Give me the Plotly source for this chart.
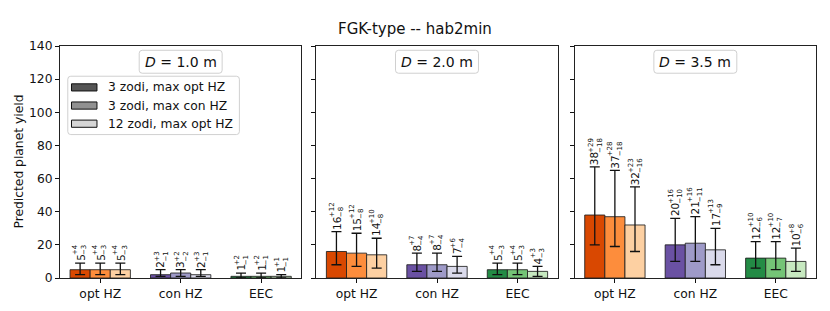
import plotly.graph_objects as go

categories = ["opt HZ", "con HZ", "EEC"]
scenarios = ["3 zodi, max opt HZ", "3 zodi, max con HZ", "12 zodi, max opt HZ"]
diameters = ["1.0", "2.0", "3.5"]

# [scenario][category]
yield_D10 = [[5, 2, 1], [5, 3, 1], [5, 2, 1]]
plus_D10 = [[4, 3, 2], [4, 2, 2], [4, 3, 1]]
minus_D10 = [[3, 1, 1], [3, 2, 1], [3, 1, 1]]

yield_D20 = [[16, 8, 5], [15, 8, 5], [14, 7, 4]]
plus_D20 = [[12, 7, 4], [12, 7, 4], [10, 6, 3]]
minus_D20 = [[8, 4, 3], [8, 4, 3], [8, 4, 3]]

yield_D35 = [[38, 20, 12], [37, 21, 12], [32, 17, 10]]
plus_D35 = [[29, 16, 10], [28, 16, 10], [23, 13, 8]]
minus_D35 = [[18, 10, 6], [18, 11, 7], [16, 9, 6]]

yticks = [0, 20, 40, 60, 80, 100, 120, 140]

bar_colors = [["#d94801", "#6a51a3", "#238b45"],
              ["#fd8d3c", "#9e9ac8", "#74c476"],
              ["#fdd0a2", "#dadaeb", "#c7e9c0"]]
legend_colors = ["#555555", "#919191", "#d6d6d6"]

panels = [(yield_D10, plus_D10, minus_D10),
          (yield_D20, plus_D20, minus_D20),
          (yield_D35, plus_D35, minus_D35)]

FONT = "DejaVu Sans"
OFF = 8  # page body margin
W, H = 830 - OFF, 311 - OFF
# page-pixel positions of plot area
PL, PR, PT, PB = 59.5, 816.0, 45.7, 278.3
ML, MR, MT, MB = PL - OFF, (W + OFF) - PR, PT - OFF, (H + OFF) - PB
PW, PH = PR - PL, PB - PT

MAIN_FS = 10.5
SUP_FS = 7


def px(xp):
    return (xp - PL) / PW


def py(yp):
    return (PB - yp) / PH


panel_px = [(59.5, 301.0), (316.0, 557.5), (574.5, 816.0)]
domains = [[max(0, px(a)), min(1, px(b))] for a, b in panel_px]

fig = go.Figure()
annotations = []
shapes = []
width = 0.25
offsets = [-0.25, 0.0, 0.25]

for p, (vals, plus, minus) in enumerate(panels):
    xa = "x" if p == 0 else f"x{p+1}"
    ya = "y" if p == 0 else f"y{p+1}"
    for j in range(3):
        xs = [i + offsets[j] for i in range(3)]
        fig.add_trace(go.Bar(
            x=xs, y=vals[j], width=width, xaxis=xa, yaxis=ya,
            name=scenarios[j], showlegend=False,
            marker=dict(color=bar_colors[j], line=dict(color="rgba(30,30,30,0.85)", width=1)),
            error_y=dict(type="data", symmetric=False, array=plus[j], arrayminus=minus[j],
                         color="#111111", thickness=1.3, width=5),
        ))
        for i in range(3):
            v = vals[j][i]
            top = v + plus[j][i]
            annotations.append(dict(
                x=xs[i], y=top, xref=xa, yref=ya, text=str(v), textangle=-90,
                showarrow=False, xanchor="center", yanchor="bottom", yshift=1,
                borderpad=0, font=dict(family=FONT, size=MAIN_FS, color="#111111")))
            annotations.append(dict(
                x=xs[i], y=top, xref=xa, yref=ya,
                text=f"+{plus[j][i]}<br>−{minus[j][i]}", textangle=-90, align="left",
                showarrow=False, xanchor="center", yanchor="bottom",
                yshift=len(str(v)) * 0.636 * MAIN_FS,
                borderpad=0, font=dict(family=FONT, size=SUP_FS, color="#111111")))


def rounded_rect(x0, y0, x1, y1, r):
    def P(x, y):
        return f"{px(x):.5f},{py(y):.5f}"
    return (f"M {P(x0 + r, y0)} L {P(x1 - r, y0)} Q {P(x1, y0)} {P(x1, y0 + r)} "
            f"L {P(x1, y1 - r)} Q {P(x1, y1)} {P(x1 - r, y1)} "
            f"L {P(x0 + r, y1)} Q {P(x0, y1)} {P(x0, y1 - r)} "
            f"L {P(x0, y0 + r)} Q {P(x0, y0)} {P(x0 + r, y0)} Z")


# panel titles
for p, (a, b) in enumerate(panel_px):
    c = (a + b) / 2
    shapes.append(dict(type="path", xref="paper", yref="paper",
                       path=rounded_rect(c - 41.5, 50, c + 41.5, 73, 3),
                       line=dict(color="#d0d0d0", width=1), fillcolor="white"))
    annotations.append(dict(x=px(c), y=py(61.5), xref="paper", yref="paper",
                            text=f"<i>D</i> = {diameters[p]} m", showarrow=False,
                            xanchor="center", yanchor="middle",
                            font=dict(family=FONT, size=14, color="#111111")))

# legend (drawn)
shapes.append(dict(type="path", xref="paper", yref="paper",
                   path=rounded_rect(67.3, 76, 239, 134.5, 3),
                   line=dict(color="#d0d0d0", width=1), fillcolor="rgba(255,255,255,0.85)"))
for k, yc in enumerate([87.2, 105.4, 123.6]):
    shapes.append(dict(type="rect", xref="paper", yref="paper",
                       x0=px(71), x1=px(96.5), y0=py(yc - 3.6), y1=py(yc + 3.6),
                       line=dict(color="#111111", width=1), fillcolor=legend_colors[k]))
    annotations.append(dict(x=px(105.5), y=py(yc), xref="paper", yref="paper",
                            text=scenarios[k], showarrow=False, xanchor="left", yanchor="middle",
                            font=dict(family=FONT, size=12.3, color="#111111")))

# suptitle
annotations.append(dict(x=px(415), y=py(29), xref="paper", yref="paper",
                        text="FGK-type -- hab2min", showarrow=False, xanchor="center",
                        yanchor="middle", font=dict(family=FONT, size=15, color="#111111")))
# y label
annotations.append(dict(x=px(18), y=py(162), xref="paper", yref="paper",
                        text="Predicted planet yield", showarrow=False, textangle=-90,
                        xanchor="center", yanchor="middle",
                        font=dict(family=FONT, size=12.3, color="#111111")))

layout = dict(
    width=W, height=H, margin=dict(l=ML, r=MR, t=MT, b=MB, pad=0, autoexpand=False),
    paper_bgcolor="white", plot_bgcolor="white", barmode="overlay",
    font=dict(family=FONT, size=12, color="#111111"),
    annotations=annotations, shapes=shapes, showlegend=False,
)
for p in range(3):
    xk = "xaxis" if p == 0 else f"xaxis{p+1}"
    yk = "yaxis" if p == 0 else f"yaxis{p+1}"
    ya = "y" if p == 0 else f"y{p+1}"
    xa = "x" if p == 0 else f"x{p+1}"
    layout[xk] = dict(domain=domains[p], range=[-0.5, 2.5], anchor=ya,
                      tickvals=[0, 1, 2], ticktext=categories, ticks="outside", ticklen=4,
                      tickcolor="#111111", showline=True, linecolor="#222222", linewidth=1,
                      mirror=True, showgrid=False, zeroline=False,
                      tickfont=dict(family=FONT, size=12.3, color="#111111"))
    layout[yk] = dict(domain=[0, 1], range=[0, 140], anchor=xa, tickvals=yticks,
                      ticks="outside", ticklen=4, tickcolor="#111111",
                      showticklabels=(p == 0), showline=True, linecolor="#222222",
                      linewidth=1, mirror=True, showgrid=False, zeroline=False,
                      tickfont=dict(family=FONT, size=12.3, color="#111111"))

fig.update_layout(**layout)
fig.write_html("out.html")
